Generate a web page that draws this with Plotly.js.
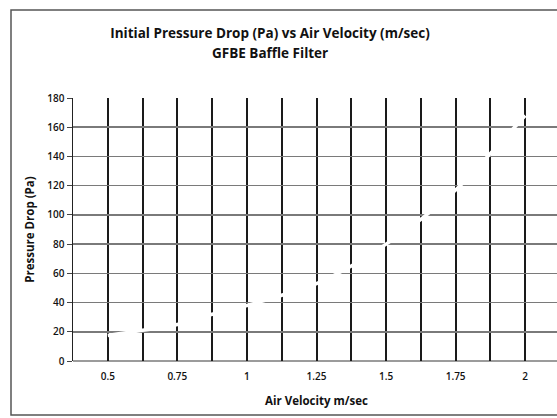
<!DOCTYPE html>
<html>
<head>
<meta charset="utf-8">
<script src="https://cdn.plot.ly/plotly-3.0.1.min.js"></script>
<style>
html,body{margin:0;padding:0;overflow:hidden;background:#fff;}
#chart{width:600px;height:418px;}
</style>
</head>
<body>
<div id="chart"></div>
<script>
// Data
const velocity = [0.5, 0.625, 0.75, 0.875, 1.0, 1.125, 1.25, 1.375, 1.5, 1.625, 1.75, 1.875, 2.0];
const pressureDrop = [17.5, 21, 25, 32, 38, 45, 53, 65, 80, 97, 117, 142, 168];

const xGridVals = [0.375, 0.5, 0.625, 0.75, 0.875, 1, 1.125, 1.25, 1.375, 1.5, 1.625, 1.75, 1.875, 2, 2.125];
const xTickText = ['', '0.5', '', '0.75', '', '1', '', '1.25', '', '1.5', '', '1.75', '', '2', ''];
const yTickVals = [0, 20, 40, 60, 80, 100, 120, 140, 160, 180];
const yGridVals = [20, 40, 60, 80, 100, 120, 140, 160];

const W = 600, H = 418, L = 73, R = 40, T = 98, B = 57;
const pw = W - L - R, ph = H - T - B;
const px = v => (v - L) / pw;
const py = v => (H - B - v) / ph;

const font = "'Open Sans', 'Noto Sans', sans-serif";

const gridTrace = {
  x: [], y: [], type: 'scatter', mode: 'lines', yaxis: 'y2',
  hoverinfo: 'skip', showlegend: false
};

const trace = {
  x: velocity,
  y: pressureDrop,
  type: 'scatter',
  mode: 'lines',
  line: {color: '#ffffff', width: 3.5, shape: 'spline'},
  hoverinfo: 'skip',
  showlegend: false
};

const layout = {
  width: W, height: H,
  margin: {l: L, r: R, t: T, b: B},
  paper_bgcolor: 'rgba(0,0,0,0)',
  plot_bgcolor: '#ffffff',
  showlegend: false,
  title: {
    text: 'Initial Pressure Drop (Pa) vs Air Velocity (m/sec)',
    font: {family: font, size: 13.5, color: '#111', weight: 700},
    x: 270 / W, xanchor: 'center', xref: 'container',
    y: 1 - 33 / H, yanchor: 'middle', yref: 'container'
  },
  annotations: [
    {text: 'GFBE Baffle Filter', showarrow: false,
     xref: 'paper', yref: 'paper', x: px(270), y: py(53), xanchor: 'center', yanchor: 'middle',
     font: {family: font, size: 13.5, color: '#111', weight: 700}}
  ],
  xaxis: {
    range: [0.375, 2.125],
    tickmode: 'array',
    tickvals: xGridVals,
    ticktext: xTickText,
    ticks: '',
    ticklabelstandoff: 8,
    showgrid: true,
    gridcolor: '#1a1a1a',
    gridwidth: 2,
    zeroline: false,
    showline: false,
    tickfont: {family: font, size: 10, color: '#111', weight: 600},
    title: {text: 'Air Velocity m/sec', font: {family: font, size: 11.5, color: '#111', weight: 700}, standoff: 14},
    fixedrange: true
  },
  yaxis: {
    range: [0, 180],
    tickmode: 'array',
    tickvals: yTickVals,
    ticks: 'outside',
    ticklen: 5,
    tickcolor: '#444',
    tickwidth: 1,
    showgrid: false,
    zeroline: false,
    showline: true,
    linecolor: '#222',
    linewidth: 1.5,
    tickfont: {family: font, size: 10, color: '#111', weight: 600},
    title: {text: 'Pressure Drop (Pa)', font: {family: font, size: 11.5, color: '#111', weight: 700}, standoff: 10},
    fixedrange: true
  },
  yaxis2: {
    range: [0, 180],
    overlaying: 'y',
    tickmode: 'array',
    tickvals: yGridVals,
    showticklabels: false,
    ticks: '',
    showgrid: true,
    gridcolor: '#7a7a7a',
    gridwidth: 1.5,
    zeroline: false,
    showline: false,
    fixedrange: true
  },
  shapes: [
    {type: 'rect', xref: 'paper', yref: 'paper',
     x0: px(11), x1: px(640), y0: py(415), y1: py(10),
     line: {color: '#555', width: 1.5}, fillcolor: 'rgba(0,0,0,0)', layer: 'below'},
    {type: 'line', xref: 'paper', yref: 'paper',
     x0: 0, x1: 1.2, y0: 0, y1: 0,
     line: {color: '#7a7a7a', width: 1.5}, layer: 'below'}
  ]
};

Plotly.newPlot('chart', [gridTrace, trace], layout, {staticPlot: true, displayModeBar: false});
</script>
</body>
</html>
